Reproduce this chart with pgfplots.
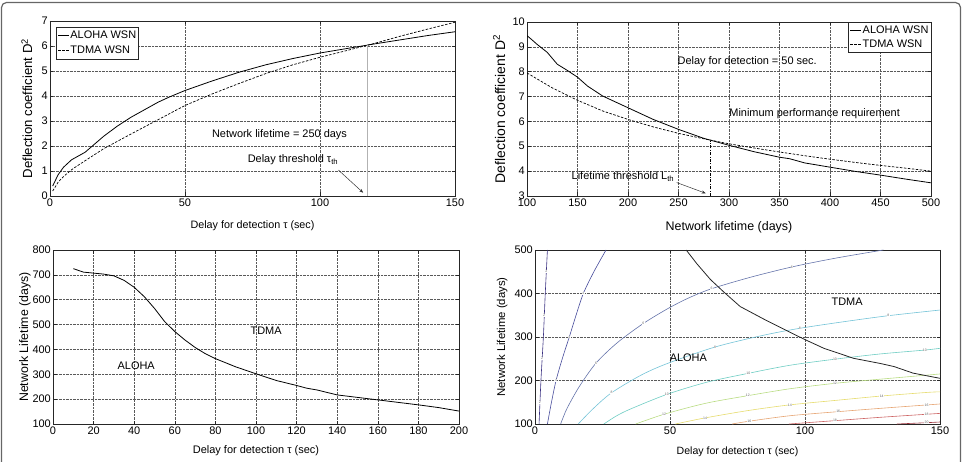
\documentclass[border=0pt]{standalone}
\usepackage{fontspec}
\setmainfont{Liberation Sans}
\usepackage{pgfplots}
\pgfplotsset{compat=1.18}
\usetikzlibrary{arrows.meta}

\definecolor{cA}{RGB}{60,50,130}
\definecolor{cB}{RGB}{70,75,155}
\definecolor{cC}{RGB}{100,115,170}
\definecolor{cD}{RGB}{115,195,215}
\definecolor{cE}{RGB}{110,205,195}
\definecolor{cF}{RGB}{185,220,130}
\definecolor{cG}{RGB}{230,220,110}
\definecolor{cH}{RGB}{230,165,115}
\definecolor{cI}{RGB}{205,100,100}
\definecolor{cJ}{RGB}{155,50,60}

\tikzset{
  intext/.style={font=\fontsize{11}{13}\selectfont},
  clab/.style={font=\fontsize{3.5}{4}\selectfont, fill=white, inner sep=0.3bp, text=black!60},
}
\pgfplotsset{
  mlab/.style={
    scale only axis,
    anchor=south west,
    tick align=inside,
    major tick length=3.5bp,
    grid=major,
    grid style={densely dotted, black!65, line width=0.5bp},
    axis line style={black!85, line width=0.6bp},
    every tick/.style={black!85, line width=0.5bp},
    /pgf/number format/assume math mode=true,
    ticklabel style={font=\fontsize{11}{13}\selectfont},
    xticklabel style={anchor=center, yshift=-7bp},
    yticklabel style={anchor=east, inner sep=1bp, xshift=-1bp},
    legend image code/.code={\draw[##1] (0bp,0bp) -- (11bp,0bp);},
    legend cell align=left,
  },
  aloha/.style={black, line width=0.8bp},
  tdma/.style={black, line width=0.7bp, dash pattern=on 2.5bp off 1.5bp},
  cont/.style={#1, line width=0.6bp, smooth, tension=0.5},
}

\begin{document}
\begin{tikzpicture}
\useasboundingbox (0,0) rectangle (968bp,462bp);
\draw[black!60, line width=1.2bp, rounded corners=5bp] (1.5bp,-20bp) -- (1.5bp,459.5bp) -- (960.5bp,459.5bp) -- (960.5bp,-20bp);

% ---------------- Top left ----------------
\begin{axis}[mlab, at={(50bp,266bp)}, width=405bp, height=175bp,
  xmin=0, xmax=150, ymin=0, ymax=7,
  xtick={0,50,100,150}, ytick={0,1,...,7},
  xlabel={Delay for detection τ (sec)},
  ylabel={Deflection coefficient D\textsuperscript{2}},
  xlabel style={at={(axis description cs:0.5,-0.171)}, anchor=center, font=\fontsize{10.8}{13}\selectfont},
  ylabel style={at={(axis description cs:-0.057,0.5)}, anchor=center, font=\fontsize{13.2}{15}\selectfont},
  legend style={at={(axis description cs:0.015,0.966)}, anchor=north west, draw=black!85, line width=0.5bp,
    font=\fontsize{11}{12}\selectfont, inner xsep=1.5bp, inner ysep=1.5bp, row sep=0bp,
    nodes={inner xsep=0.8bp, inner ysep=2.6bp}},
]
\addplot[aloha] coordinates {(1,0.4) (3,0.85) (5,1.15) (8,1.45) (13,1.75) (20,2.4) (25,2.8) (30,3.15) (40,3.75) (44,3.95) (50,4.22) (60,4.6) (70,4.95) (80,5.25) (90,5.5) (100,5.72) (110,5.9) (120,6.08) (130,6.25) (140,6.42) (150,6.57)};
\addlegendentry{ALOHA WSN}
\addplot[tdma] coordinates {(1,0.2) (3,0.55) (5,0.78) (8,1.05) (10,1.2) (15,1.55) (20,1.9) (30,2.48) (40,3.05) (50,3.62) (60,4.08) (70,4.5) (80,4.9) (90,5.25) (100,5.55) (110,5.82) (120,6.1) (130,6.4) (140,6.68) (150,6.95)};
\addlegendentry{TDMA WSN}
\addplot[black!30, line width=0.5bp, forget plot] coordinates {(117.5,0) (117.5,6.05)};
\addplot[black!80, line width=0.5bp, -{Stealth[length=4bp,width=3bp]}, forget plot] coordinates {(106.8,1.04) (116,0.13)};
\node[intext] at (axis cs:85,2.44) {Network lifetime = 250 days};
\node[intext] at (axis cs:90,1.44) {Delay threshold τ\textsubscript{th}};
\end{axis}

% ---------------- Top right ----------------
\begin{axis}[mlab, at={(527bp,266bp)}, width=404bp, height=174bp,
  xmin=100, xmax=500, ymin=3, ymax=10,
  xtick={100,150,...,500}, ytick={3,4,...,10},
  xlabel={Network lifetime (days)},
  ylabel={Deflection coefficient D\textsuperscript{2}},
  xlabel style={at={(axis description cs:0.5,-0.178)}, anchor=center, font=\fontsize{12.5}{14}\selectfont},
  ylabel style={at={(axis description cs:-0.069,0.5)}, anchor=center, font=\fontsize{14}{16}\selectfont},
  legend style={at={(axis description cs:1,1)}, anchor=north east, draw=black!85, line width=0.5bp,
    font=\fontsize{11}{12}\selectfont, inner xsep=1.5bp, inner ysep=1.2bp, row sep=0bp,
    nodes={inner xsep=0.8bp, inner ysep=2.4bp}},
]
\addplot[aloha] coordinates {(100,9.45) (105,9.28) (110,9.1) (120,8.78) (130,8.3) (140,8.05) (150,7.78) (160,7.42) (175,7.02) (200,6.55) (225,6.08) (250,5.68) (275,5.32) (300,5.04) (325,4.78) (350,4.56) (360,4.5) (375,4.33) (400,4.16) (425,3.99) (450,3.84) (475,3.68) (500,3.53)};
\addlegendentry{ALOHA WSN}
\addplot[tdma] coordinates {(100,7.95) (125,7.35) (150,6.85) (175,6.42) (200,6.08) (225,5.78) (250,5.52) (275,5.3) (300,5.1) (325,4.93) (350,4.77) (375,4.62) (400,4.48) (425,4.35) (450,4.23) (475,4.12) (500,4.0)};
\addlegendentry{TDMA WSN}
\addplot[black, line width=0.6bp, dash pattern=on 3bp off 1.5bp on 0.8bp off 1.5bp, forget plot] coordinates {(281,3) (281,5.22)};
\addplot[black!80, line width=0.5bp, -{Stealth[length=4bp,width=3bp]}, forget plot] coordinates {(248.2,3.54) (276.9,3.11)};
\node[intext] at (axis cs:318,8.4) {Delay for detection = 50 sec.};
\node[intext] at (axis cs:384.8,6.3) {Minimum performance requirement};
\node[intext] at (axis cs:195,3.78) {Lifetime threshold L\textsubscript{th}};
\end{axis}

% ---------------- Bottom left ----------------
\begin{axis}[mlab, at={(53bp,38bp)}, width=406bp, height=174bp,
  xmin=0, xmax=200, ymin=100, ymax=800,
  xtick={0,20,...,200}, ytick={100,200,...,800},
  xlabel={Delay for detection τ (sec)},
  ylabel={Network Lifetime (days)},
  xlabel style={at={(axis description cs:0.5,-0.155)}, anchor=center, font=\fontsize{11}{13}\selectfont},
  ylabel style={at={(axis description cs:-0.069,0.5)}, anchor=center, font=\fontsize{12.4}{14}\selectfont},
]
\addplot[aloha] coordinates {(10,725) (15,711) (20,707) (25,703) (30,696) (35,678) (40,650) (45,612) (50,565) (55,512) (60,472) (65,438) (70,408) (75,383) (80,363) (90,330) (100,302) (110,275) (120,255) (125,244) (130,237) (140,217) (150,207) (160,197) (170,187) (180,177) (190,166) (200,152)};
\node[intext] at (axis cs:105,477) {TDMA};
\node[intext] at (axis cs:41,333) {ALOHA};
\end{axis}

% ---------------- Bottom right ----------------
\begin{axis}[mlab, at={(535bp,38bp)}, width=405bp, height=174bp,
  xmin=0, xmax=150, ymin=100, ymax=500,
  xtick={0,50,100,150}, ytick={100,200,...,500},
  xlabel={Delay for detection τ (sec)},
  ylabel={Network Lifetime (days)},
  xlabel style={at={(axis description cs:0.5,-0.161)}, anchor=center, font=\fontsize{10.6}{13}\selectfont},
  ylabel style={at={(axis description cs:-0.081,0.5)}, anchor=center, font=\fontsize{11.4}{14}\selectfont},
]
\addplot[cont=cA] coordinates {(1.5,100) (2.2,200) (3.1,300) (3.8,400) (4.6,500)};
\addplot[cont=cB] coordinates {(4.6,100) (6.1,150) (7.8,200) (10.1,250) (12.7,300) (15.2,350) (17.9,400) (21.8,450) (26.3,500)};
\addplot[cont=cC] coordinates {(9.5,100) (11.8,135) (16.4,186) (22.6,240) (30.5,287) (40.1,331) (49.4,366) (57,390) (65.4,411) (79.6,437) (95.1,461) (111.1,481) (129,500)};
\addplot[cont=cD] coordinates {(16,100) (21.5,135) (28.4,172) (39.5,213) (49.4,240) (66.7,277) (84.6,304) (98.1,320) (114.2,335) (130.9,349) (150,362)};
\addplot[cont=cE] coordinates {(25.5,100) (30,118) (35.2,134) (48.8,168) (63.6,196) (79,216.5) (94.4,235) (111.1,249) (127.8,261) (144.4,270) (150,274)};
\addplot[cont=cF] coordinates {(37.3,100) (47.8,122.4) (63.2,147.6) (78.8,165.1) (94.4,181) (111.1,193.5) (127.8,203) (150,215)};
\addplot[cont=cG] coordinates {(52,100) (63,114) (79,131) (94.4,144) (111.7,154.5) (128.4,164.4) (145,172.5) (150,174)};
\addplot[cont=cH] coordinates {(73,100) (79.4,106.5) (94.4,119) (112.3,128.4) (129,136.5) (150,146)};
\addplot[cont=cI] coordinates {(94,100) (111.1,107.7) (128.4,115.6) (150,124.4)};
\addplot[cont=cJ] coordinates {(134,100) (145,103) (150,104.6)};
\addplot[black!85, line width=0.8bp] coordinates {(56,500) (60,468) (65,432) (70,403) (76,370) (86,337) (96,306) (100,294) (107,274) (118,251) (128,239) (133,232) (140,217) (150,205)};
% contour labels
\node[clab] at (axis cs:1.8,150) {2};
\node[clab] at (axis cs:2.6,250) {2};
\node[clab] at (axis cs:3.4,350) {2};
\node[clab] at (axis cs:4.2,450) {2};
\node[clab] at (axis cs:7.8,200) {4};
\node[clab] at (axis cs:12.7,300) {4};
\node[clab] at (axis cs:17.9,400) {4};
\node[clab] at (axis cs:22.6,240) {6};
\node[clab] at (axis cs:40.1,331) {6};
\node[clab] at (axis cs:65.4,411) {6};
\node[clab] at (axis cs:95.1,461) {6};
\node[clab] at (axis cs:28.4,172) {8};
\node[clab] at (axis cs:66.7,277) {8};
\node[clab] at (axis cs:98.1,320) {8};
\node[clab] at (axis cs:130.9,349) {8};
\node[clab] at (axis cs:48.8,168) {10};
\node[clab] at (axis cs:79,216.5) {10};
\node[clab] at (axis cs:111.1,249) {10};
\node[clab] at (axis cs:144.4,270) {10};
\node[clab] at (axis cs:47.8,122.4) {12};
\node[clab] at (axis cs:78.8,165.1) {12};
\node[clab] at (axis cs:111.1,193.5) {12};
\node[clab] at (axis cs:63,114) {14};
\node[clab] at (axis cs:94.4,144) {14};
\node[clab] at (axis cs:128.4,164.4) {14};
\node[clab] at (axis cs:79.4,106.5) {16};
\node[clab] at (axis cs:112.3,128.4) {16};
\node[clab] at (axis cs:145,143.7) {16};
\node[clab] at (axis cs:111.1,107.7) {18};
\node[clab] at (axis cs:145,122.4) {18};
\node[clab] at (axis cs:145,103) {20};
\node[intext] at (axis cs:115.6,381) {TDMA};
\node[intext] at (axis cs:56.8,252) {ALOHA};
\end{axis}
\end{tikzpicture}
\end{document}
